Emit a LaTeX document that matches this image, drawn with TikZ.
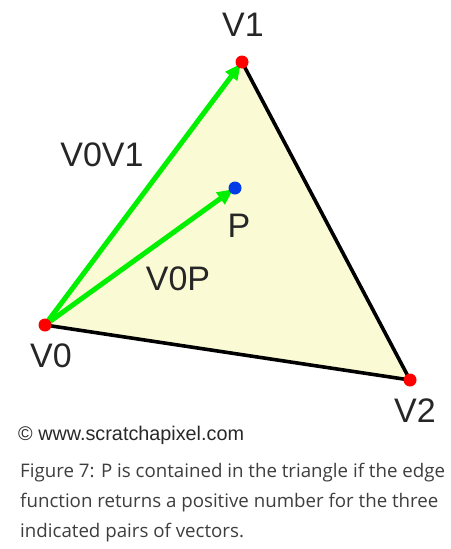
\documentclass[tikz,border=0pt]{standalone}
\usepackage{fontspec}
\setmainfont{Liberation Sans}
\newfontfamily\capfont{Open Sans}
\usetikzlibrary{arrows.meta}
\definecolor{trifill}{RGB}{250,251,212}
\definecolor{vecgreen}{RGB}{0,240,0}
\definecolor{dotred}{RGB}{255,0,0}
\definecolor{dotblue}{RGB}{0,60,230}
\definecolor{captext}{RGB}{62,62,62}
\definecolor{copytext}{RGB}{40,40,40}
\tikzset{
  vlabel/.style={font=\fontsize{34}{34}\selectfont, text=black!85, inner sep=0pt},
  vdot/.style={circle, fill=#1, minimum size=13pt, inner sep=0pt},
  edge/.style={line width=3.6pt, black},
  vec/.style={line width=5pt, vecgreen, -{Triangle[length=16pt,width=14pt]}, shorten >=2pt},
  capline/.style={anchor=base west, inner sep=0pt, text=captext, font=\capfont\fontsize{18.7}{30}\selectfont},
}
\begin{document}
\begin{tikzpicture}[x=1pt,y=-1pt]
\useasboundingbox (0,0) rectangle (450,549);
\coordinate (V0) at (45,325);
\coordinate (V1) at (242,62);
\coordinate (V2) at (410,380);
\coordinate (P) at (235,188);
\fill[trifill] (V0) -- (V1) -- (V2) -- cycle;
\draw[edge, line join=round] (V1) -- (V2) -- (V0);
\draw[vec] (V0) -- (V1);
\draw[vec] (V0) -- (P);
\node[vdot=dotred] (d0) at (V0) {};
\node[vdot=dotred] (d1) at (V1) {};
\node[vdot=dotred] (d2) at (V2) {};
\node[vdot=dotblue] (dp) at (P) {};
\node[vlabel] (l1) at (243,25) {V1};
\node[vlabel] (l0) at (51,356) {V0};
\node[vlabel] (l2) at (415,411) {V2};
\node[vlabel] (lp) at (239,226) {P};
\node[vlabel] (lv01) at (102,155) {V0V1};
\node[vlabel] (lv0p) at (178,279) {V0P};
\node[anchor=west, inner sep=0pt, text=copytext, font=\fontsize{19.8}{20}\selectfont] (copy) at (18,435) {© www.scratchapixel.com};
\node[capline] (c1) at (20,477) {Figure 7: P is contained in the triangle if the edge};
\node[capline] (c2) at (20,507) {function returns a positive number for the three};
\node[capline] (c3) at (20,537) {indicated pairs of vectors.};
\end{tikzpicture}
\end{document}
